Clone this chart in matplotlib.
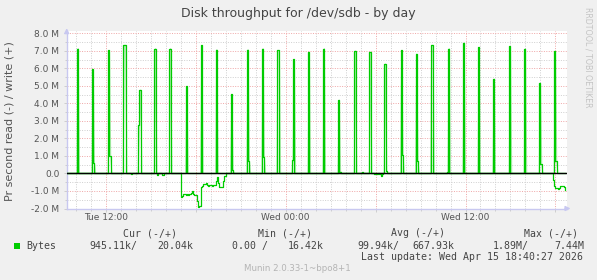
import numpy as np
import matplotlib
matplotlib.use('Agg')
import matplotlib.pyplot as plt
from matplotlib.ticker import MultipleLocator, FuncFormatter
from matplotlib.patches import Rectangle

# samples are 5 minutes apart, times in minutes after Tue 00:00, values in M bytes/s
write_min = [605, 665, 670, 730, 735, 790, 795, 850, 855, 915,
             975, 1040, 1100, 1160, 1220, 1225, 1285, 1290, 1345, 1350,
             1405, 1410, 1465, 1470, 1530, 1590, 1650, 1655, 1715, 1745,
             1775, 1835, 1840, 1900, 1905, 1960, 1965, 2020, 2025, 2085,
             2090, 2150, 2210, 2270, 2335, 2395, 2455, 2460, 2515, 2520]
write_val = [7.13, 5.94, 0.61, 7.02, 1.00, 7.31, 7.31, 2.78, 4.76, 7.13,
             7.13, 4.97, 7.31, 7.07, 4.51, 0.20, 7.07, 0.74, 7.13, 0.93,
             7.02, 7.02, 0.78, 6.51, 6.93, 7.13, 4.19, 0.10, 6.99, 0.06,
             6.93, 6.25, 0.15, 7.02, 1.03, 6.82, 0.69, 7.31, 7.31, 0.10,
             7.13, 7.45, 7.20, 5.39, 7.26, 7.13, 5.16, 0.53, 6.99, 0.74]

# reads are drawn below zero
read_small_min = [820, 925, 945, 950, 1795, 1800, 1805, 1815, 1820, 1825]
read_small_val = [-0.05, -0.06, -0.08, -0.08, -0.05, -0.05, -0.03, -0.05, -0.12, -0.04]
read_run1_start = 1020
read_run1 = [-1.33, -1.30, -1.20, -1.20, -1.22, -1.18, -1.22, -1.20, -1.10, -0.98,
             -1.18, -1.22, -1.25, -1.55, -1.90, -1.88, -0.78, -0.72, -0.62, -0.60,
             -0.55, -0.66, -0.70, -0.68, -0.68, -0.70, -0.66, -0.68, -0.45, -0.22,
             -0.55, -0.76, -0.78, -0.76, -0.45, -0.15]
read_run2_start = 2510
read_run2 = [-0.35, -0.70, -0.82, -0.84, -0.86, -0.82, -0.72, -0.70, -0.70, -0.80, -0.93]

tick_hours = [12, 24, 36]
tick_labels = ['Tue 12:00', 'Wed 00:00', 'Wed 12:00']

legend_head = ['Cur (-/+)', 'Min (-/+)', 'Avg (-/+)', 'Max (-/+)']
legend_vals = ['945.11k/', '20.04k', '0.00 /', '16.42k', '99.94k/', '667.93k', '1.89M/', '7.44M']

# time grid
t = np.arange(560, 2565, 5)
write = np.zeros(len(t))
read = np.zeros(len(t))
idx = {m: i for i, m in enumerate(t)}
for m, v in zip(write_min, write_val):
    write[idx[m]] = v
for m, v in zip(read_small_min, read_small_val):
    read[idx[m]] = v
for k, v in enumerate(read_run1):
    read[idx[read_run1_start + 5 * k]] = v
for k, v in enumerate(read_run2):
    read[idx[read_run2_start + 5 * k]] = v
hours = t / 60.0

W, H = 597, 280
fig = plt.figure(figsize=(W / 100, H / 100), dpi=100, facecolor='#F0F0F0')
ax = fig.add_axes([66.7 / W, 1 - 208.5 / H, 500.6 / W, 177.8 / H])
ax.set_facecolor('white')

green = '#00CC00'
ax.plot(hours, write, drawstyle='steps-post', color=green, lw=0.9, zorder=3)
ax.plot(hours + 5 / 60.0, write, color='#7FE07F', lw=0.8, alpha=0.6, zorder=2)
ax.plot(hours, read, drawstyle='steps-post', color=green, lw=0.9, zorder=3)
ax.axhline(0, color='black', lw=1.0, zorder=4)

ax.set_xlim(9.40, 42.79)
ax.set_ylim(-2.0, 8.15)

ax.xaxis.set_major_locator(MultipleLocator(6))
ax.xaxis.set_minor_locator(MultipleLocator(1))
ax.yaxis.set_major_locator(MultipleLocator(1))
ax.yaxis.set_minor_locator(MultipleLocator(0.5))
lab = dict(zip(tick_hours, tick_labels))
ax.xaxis.set_major_formatter(FuncFormatter(lambda v, p: lab.get(int(round(v)), '')))
ax.yaxis.set_major_formatter(FuncFormatter(lambda v, p: '0.0' if abs(v) < 1e-9 else '%.1f M' % v))

ax.grid(which='minor', color='#CFCFCF', linestyle=(0, (1, 1.5)), lw=0.7)
ax.grid(which='major', color='#EFA6A6', linestyle=(0, (1, 1.5)), lw=0.7)
ax.set_axisbelow(True)

for s in ['top', 'right']:
    ax.spines[s].set_visible(False)
for s in ['left', 'bottom']:
    ax.spines[s].set_color('#C8C8F0')
    ax.spines[s].set_linewidth(1.0)
ax.tick_params(which='both', colors='#C8C8C8', labelcolor='#555555', labelsize=6.5, length=2, width=0.6)
ax.tick_params(axis='y', pad=3.3)
ax.tick_params(axis='x', pad=1.5)
ax.tick_params(which='minor', length=1.5)

ax.annotate('', xy=(1.012, 0), xytext=(0.99, 0), xycoords='axes fraction',
            arrowprops=dict(arrowstyle='-|>', color='#C8C8F0', lw=1.0, mutation_scale=7))
ax.annotate('', xy=(0, 1.03), xytext=(0, 0.98), xycoords='axes fraction',
            arrowprops=dict(arrowstyle='-|>', color='#C8C8F0', lw=1.0, mutation_scale=7))

fig.text(298 / W, 1 - 13 / H, 'Disk throughput for /dev/sdb - by day', ha='center', va='center',
         fontsize=9, color='#444444')
fig.text(10 / W, 1 - 121 / H, 'Pr second read (-) / write (+)', ha='center', va='center',
         rotation=90, fontsize=8, color='#555555')
fig.text(588 / W, 1 - 57 / H, 'RRDTOOL / TOBI OETIKER', ha='center', va='center',
         rotation=270, fontsize=5.7, color='#C4C4C4')

mono = dict(family='DejaVu Sans Mono', fontsize=7.1, color='#444444', va='center', ha='left')
head_x = [123, 258, 391, 524]
for x, s in zip(head_x, legend_head):
    fig.text(x / W, 1 - 233.3 / H, s, **mono)
fig.patches.append(Rectangle((14 / W, 1 - 248.5 / H), 6 / W, 6 / H, transform=fig.transFigure,
                             facecolor=green, edgecolor='none'))
fig.text(26.7 / W, 1 - 245.6 / H, 'Bytes', **mono)
val_x = [89, 157, 231.7, 287.7, 357, 412, 493, 554]
for x, s in zip(val_x, legend_vals):
    fig.text(x / W, 1 - 245.6 / H, s, **mono)
fig.text(583 / W, 1 - 257.3 / H, 'Last update: Wed Apr 15 18:40:27 2026',
         **dict(mono, ha='right'))
fig.text(297.5 / W, 1 - 268.3 / H, 'Munin 2.0.33-1~bpo8+1', ha='center', va='center',
         fontsize=6.2, color='#B4B4B4')

fig.savefig('out.png', dpi=100, facecolor=fig.get_facecolor())
